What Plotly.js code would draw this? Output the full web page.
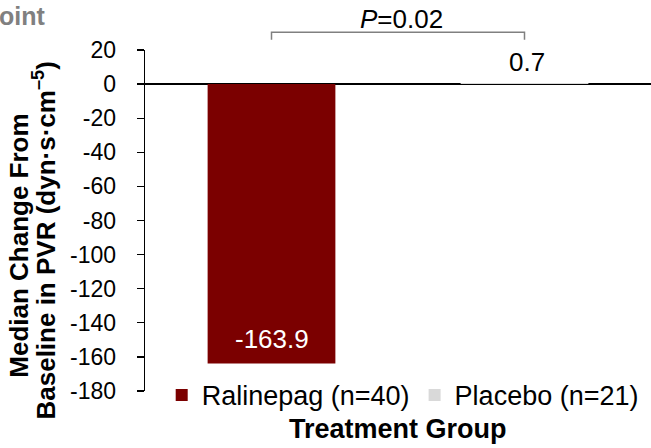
<!DOCTYPE html>
<html>
<head>
<meta charset="utf-8">
<script src="https://cdn.plot.ly/plotly-3.0.1.min.js"></script>
<style>html,body{margin:0;padding:0;background:#fff;}#chart{width:651px;height:448px;}</style>
</head>
<body>
<div id="chart"></div>
<script>
var groups = ["Ralinepag (n=40)", "Placebo (n=21)"];
var medianChange = [-163.9, 0.7];
var valueLabels = ["-163.9", "0.7"];
var barColors = ["#7b0000", "#d9d9d9"];
var labelColors = ["#ffffff", "#000000"];
var yTicks = [20, 0, -20, -40, -60, -80, -100, -120, -140, -160, -180];
var pText = "<i>P</i>=0.02";
var headerText = "oint";
var yTitleLines = ["Median Change From", "Baseline in PVR (dyn·s·cm<sup>–5</sup>)"];
var xTitle = "Treatment Group";

var FONT = "Liberation Sans, Arial, sans-serif";

var traces = groups.map(function (g, i) {
  return {
    type: "bar",
    name: g,
    x: [g],
    y: [medianChange[i]],
    width: 0.505,
    marker: { color: barColors[i], line: { width: 0 } },
    hoverinfo: "skip"
  };
});

var annotations = [];
groups.forEach(function (g, i) {
  var neg = medianChange[i] < 0;
  annotations.push({
    xref: "x", yref: "y", x: g, y: medianChange[i],
    yanchor: "bottom", xanchor: "center",
    yshift: neg ? 8 : 4, xshift: neg ? 0 : 2,
    text: valueLabels[i], showarrow: false,
    font: { family: FONT, size: 26, color: labelColors[i] }
  });
});
annotations.push({
  xref: "paper", yref: "paper", x: 0.5, y: 1.091,
  yanchor: "middle", xanchor: "center", xshift: 3,
  text: pText, showarrow: false,
  font: { family: FONT, size: 26, color: "#000000" }
});
annotations.push({
  xref: "paper", yref: "paper", x: -0.2866, y: 1.1,
  xanchor: "left", yanchor: "middle", xshift: -3,
  text: "<b>" + headerText + "</b>", showarrow: false,
  font: { family: FONT, size: 25, color: "#808080" }
});
annotations.push({
  xref: "paper", yref: "paper", x: -0.249, y: 0.426,
  xanchor: "center", yanchor: "middle", textangle: -90,
  text: "<b>" + yTitleLines[0] + "</b>", showarrow: false,
  font: { family: FONT, size: 26, color: "#000000" }
});
annotations.push({
  xref: "paper", yref: "paper", x: -0.1985, y: 0.44,
  xanchor: "center", yanchor: "middle", textangle: -90,
  text: "<b>" + yTitleLines[1] + "</b>", showarrow: false,
  font: { family: FONT, size: 26, color: "#000000" }
});
annotations.push({
  xref: "paper", yref: "paper", x: 0.5, y: -0.111,
  xanchor: "center", yanchor: "middle",
  text: "<b>" + xTitle + "</b>", showarrow: false,
  font: { family: FONT, size: 27, color: "#000000" }
});

var layout = {
  width: 651,
  height: 448,
  margin: { l: 145, r: 0, t: 50, b: 57, autoexpand: false },
  paper_bgcolor: "#ffffff",
  plot_bgcolor: "#ffffff",
  barmode: "overlay",
  showlegend: true,
  font: { family: FONT, color: "#000000" },
  xaxis: {
    type: "category",
    categoryorder: "array",
    categoryarray: groups,
    showticklabels: false,
    ticks: "",
    showline: false,
    showgrid: false,
    zeroline: false,
    range: [-0.5, 1.5]
  },
  yaxis: {
    range: [-180, 20],
    tickvals: yTicks,
    ticktext: yTicks.map(String),
    ticks: "outside",
    ticklen: 7,
    tickwidth: 1.3,
    tickcolor: "#000000",
    showline: true,
    linecolor: "#000000",
    linewidth: 1.3,
    showgrid: false,
    zeroline: true,
    zerolinecolor: "#000000",
    zerolinewidth: 1.3,
    ticklabelstandoff: 16,
    tickfont: { family: FONT, size: 23, color: "#000000" }
  },
  legend: {
    orientation: "h",
    x: 0.033,
    xanchor: "left",
    y: 0.059,
    yanchor: "top",
    font: { family: FONT, size: 27, color: "#000000" },
    itemwidth: 30,
    traceorder: "normal",
    bgcolor: "rgba(0,0,0,0)"
  },
  shapes: [
    {
      type: "path",
      xref: "x",
      yref: "paper",
      path: "M 0 1.03 L 0 1.052 L 1 1.052 L 1 1.03",
      line: { color: "#808080", width: 1.5 }
    }
  ],
  annotations: annotations
};

Plotly.newPlot("chart", traces, layout, { displayModeBar: false, staticPlot: true });
</script>
</body>
</html>
